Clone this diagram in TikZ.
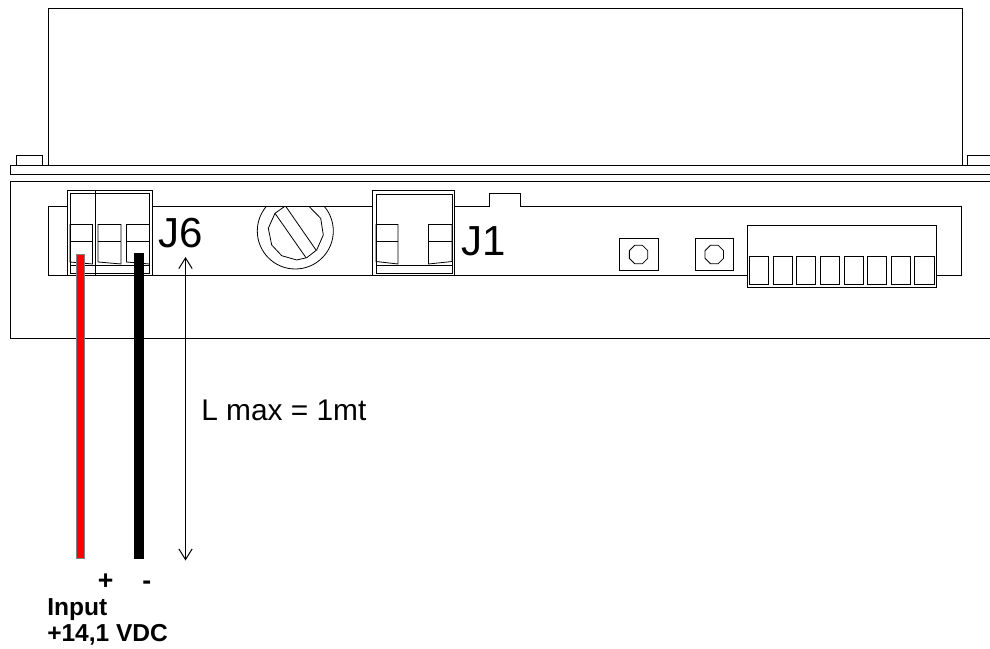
\documentclass[tikz,border=0pt]{standalone}
\usepackage{fontspec}
\usetikzlibrary{arrows.meta}
\setmainfont{Liberation Sans}
\definecolor{wirered}{RGB}{255,0,0}
\tikzset{
  line/.style={draw=black,line width=0.75pt},
  thin line/.style={draw=black,line width=0.6pt},
  wire/.style={draw=#1,line width=0.5pt,fill=#1},
  barb/.style={{Straight Barb[length=8pt,width=10pt]}-{Straight Barb[length=8pt,width=10pt]}},
  big/.style={font=\fontsize{31.5}{31.5}\selectfont,inner sep=0pt,anchor=base west},
  mid/.style={font=\fontsize{22.4}{24.5}\selectfont,inner sep=0pt,anchor=base west},
  lab/.style={font=\fontsize{18.4}{22}\selectfont\bfseries,inner sep=0pt,anchor=base west},
  sign/.style={font=\fontsize{20}{22}\selectfont\bfseries,inner sep=0pt,anchor=base west}
}
\begin{document}
\begin{tikzpicture}[x=0.75pt,y=-0.75pt]
\useasboundingbox (0,0) rectangle (990,649);
% housing
\draw[line] (48,165.3) -- (48,9) -- (962,9) -- (962,165.3);
\draw[line] (990,165.3) -- (10.5,165.3) -- (10.5,175) -- (990,175);
\draw[line] (16.5,165.3) -- (16.5,156) -- (42.5,156) -- (42.5,165.3);
\draw[line] (967,165.3) -- (967,156) -- (990,156);
\draw[line] (990,181.3) -- (10.5,181.3) -- (10.5,339) -- (990,339);
% panel
\draw[line] (67,206.7) -- (48,206.7) -- (48,276) -- (961.7,276) -- (961.7,206.7) -- (520.7,206.7) -- (520.7,194) -- (489.3,194) -- (489.3,206.7) -- (454.3,206.7);
\draw[line] (372.7,206.7) -- (152.5,206.7);
% J6
\draw[line,fill=white] (67,190.5) rectangle (152.5,276);
\draw[thin line] (70,193.5) rectangle (149.5,273.5);
\draw[line] (95.5,190.5) -- (95.5,276);
\foreach \xa/\xb in {70/92.5,98/121,126.5/149.5}{
  \draw[thin line] (\xa,262) -- (\xa,224.5) -- (\xb,224.5) -- (\xb,264) -- cycle;
  \draw[thin line] (\xa,241.5) -- (\xb,241.5);
}
\draw[thin line] (70,265) -- (149.5,265);
% J1
\draw[line,fill=white] (372.7,190.7) rectangle (454.3,276);
\draw[thin line] (376,194) rectangle (452,273.5);
\draw[thin line] (376,261.5) -- (376,224.5) -- (398,224.5) -- (398,264) -- cycle;
\draw[thin line] (376,241.5) -- (398,241.5);
\draw[thin line] (428.5,264) -- (428.5,224.5) -- (452,224.5) -- (452,261.5) -- cycle;
\draw[thin line] (428.5,241.5) -- (452,241.5);
\draw[thin line] (376,265) -- (452,265);
% knob
\begin{scope}
\clip (250,206.7) rectangle (345,280);
\draw[thin line] (295.3,231) circle[radius=38];
\end{scope}
\draw[thin line] (284.3,206.7) -- (275,213.3) -- (268.3,228.3) -- (271.7,245) -- (281.7,255.7) -- (296.7,260) -- (306.7,257.7) -- (316.7,250) -- (323.3,235) -- (320.7,218.3) -- (309.3,206.7);
\draw[thin line] (275,213.3) -- (306,257.7);
\draw[thin line] (286,206.7) -- (316,250);
% trimmers
\foreach \xa in {619.3,695}{
  \draw[line] (\xa,238.7) rectangle +(38.7,32.3);
  \draw[thin line] plot[samples=9,domain=22.5:382.5] ({\xa+19.3+10*cos(\x)},{254.5+10*sin(\x)});
}
% DIP
\draw[line,fill=white] (747,225.7) rectangle (936.5,288);
\draw[draw=black,line width=1.1pt] (841,225.7) -- (936.5,225.7);
\foreach \xa in {749.3,773.3,796.3,820.3,844.3,867.3,891.3,914.7}{
  \draw[line] (\xa,256.5) rectangle +(19.3,28);
}
% wires
\draw[wire=wirered,draw=gray] (76.5,254.5) rectangle (84.5,558);
\draw[wire=black] (134,253) rectangle (143,558);
% dimension
\coordinate (dimtop) at (185.5,257);
\coordinate (dimbot) at (185.5,560.5);
\draw[line,barb] (dimtop) -- (dimbot);
% labels
\node[big] (j6) at (158,248) {J6};
\node[big] (j1) at (461,256) {J1};
\node[mid] (lmax) at (201,420) {L max = 1mt};
\node[sign] (plus) at (97.5,589) {+};
\node[sign] (minus) at (142,589) {-};
\node[lab] (input) at (47,615) {Input};
\node[lab] (volt) at (47,641) {+14,1 VDC};
\end{tikzpicture}
\end{document}
